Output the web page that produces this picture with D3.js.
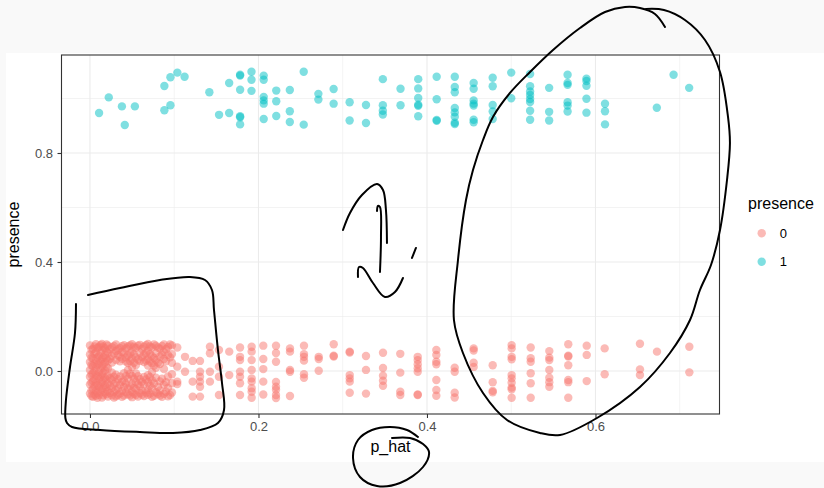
<!DOCTYPE html>
<html>
<head>
<meta charset="utf-8">
<script src="https://cdn.jsdelivr.net/npm/d3@7"></script>
<style>
  html, body { margin: 0; padding: 0; background: #f9f9f9; }
  svg { display: block; }
  text { font-family: "Liberation Sans", Arial, Helvetica, sans-serif; }
</style>
</head>
<body>
<svg id="chart" width="824" height="488"></svg>
<script>
// p_hat columns with the jittered presence values of their points (presence = 0)
const absentCols = [
  [0.0000, [0.094, 0.061, 0.033, 0.004, -0.021, -0.049, -0.083]],
  [0.0018, [0.078, 0.049, 0.021, -0.013, -0.042, -0.071, -0.092]],
  [0.0036, [0.081, 0.047, 0.018, -0.008, -0.037, -0.066, -0.095]],
  [0.0053, [0.090, 0.063, 0.027, -0.001, -0.030, -0.057, -0.086]],
  [0.0071, [0.098, 0.070, 0.041, 0.012, -0.016, -0.044, -0.072, -0.091]],
  [0.0089, [0.085, 0.050, 0.023, -0.019, -0.052, -0.080, -0.098]],
  [0.0107, [0.088, 0.055, 0.026, -0.003, -0.029, -0.058, -0.087]],
  [0.0125, [0.095, 0.066, 0.036, 0.006, -0.022, -0.049, -0.078]],
  [0.0142, [0.099, 0.075, 0.045, 0.019, -0.011, -0.040, -0.068, -0.097]],
  [0.0160, [0.089, 0.050, 0.025, -0.005, -0.033, -0.061, -0.089]],
  [0.0178, [0.083, 0.058, 0.032, 0.002, -0.024, -0.052, -0.079]],
  [0.0196, [0.097, 0.072, 0.046, 0.015, -0.031, -0.060, -0.085]],
  [0.0214, [0.093, 0.066, 0.038, 0.010, -0.017, -0.046, -0.074, -0.094]],
  [0.0237, [0.080, 0.045, -0.026, -0.054, -0.081]],
  [0.0261, [0.087, 0.056, 0.031, -0.006, -0.033, -0.062, -0.089]],
  [0.0285, [0.092, 0.064, -0.021, -0.048, -0.077, -0.097]],
  [0.0309, [0.097, 0.073, 0.040, -0.014, -0.042, -0.070, -0.093]],
  [0.0332, [0.079, 0.058, -0.030, -0.064, -0.088]],
  [0.0356, [0.084, 0.052, 0.036, -0.020, -0.051, -0.083]],
  [0.0380, [0.091, 0.070, 0.045, -0.040, -0.073, -0.095]],
  [0.0404, [0.095, 0.064, -0.008, -0.036, -0.059, -0.090]],
  [0.0427, [0.083, 0.050, 0.035, -0.018, -0.047, -0.078]],
  [0.0451, [0.090, 0.058, 0.029, 0.004, -0.027, -0.064, -0.085]],
  [0.0475, [0.094, 0.065, 0.037, -0.010, -0.055, -0.090]],
  [0.0499, [0.098, 0.071, 0.045, 0.015, -0.018, -0.047, -0.076, -0.096]],
  [0.0522, [0.089, 0.060, 0.030, -0.028, -0.062, -0.084]],
  [0.0546, [0.085, 0.050, 0.022, -0.009, -0.040, -0.068, -0.088]],
  [0.0570, [0.093, 0.042, -0.019, -0.049, -0.094]],
  [0.0593, [0.096, 0.067, 0.037, -0.030, -0.057, -0.081]],
  [0.0617, [0.081, 0.051, -0.040, -0.071, -0.087]],
  [0.0641, [0.089, 0.060, 0.033, -0.022, -0.049, -0.092]],
  [0.0665, [0.095, 0.065, 0.038, -0.031, -0.079]],
  [0.0688, [0.099, 0.074, 0.043, 0.020, -0.015, -0.041, -0.070, -0.087]],
  [0.0712, [0.090, 0.062, 0.035, -0.022, -0.054, -0.083]],
  [0.0736, [0.086, 0.055, 0.028, -0.004, -0.034, -0.063, -0.095]],
  [0.0760, [0.097, 0.048, 0.020, -0.046, -0.091]],
  [0.0783, [0.093, 0.066, 0.040, 0.012, -0.025, -0.078]],
  [0.0807, [0.086, 0.031, -0.058, -0.084]],
  [0.0831, [0.082, 0.053, 0.026, -0.038, -0.071, -0.090]],
  [0.0855, [0.092, 0.060, -0.028, -0.095]],
  [0.0878, [0.097, 0.070, 0.044, 0.007, -0.050, -0.084]],
  [0.0902, [0.080, 0.036, -0.041, -0.076]],
  [0.0926, [0.088, 0.059, -0.020, -0.062, -0.093]],
  [0.0950, [0.097, 0.050, -0.088]],
  [0.0973, [0.094, 0.062, 0.030, -0.012, -0.045, -0.079]],
  [0.1036, [0.086, 0.016, -0.039, -0.048]],
  [0.1128, [0.052, -0.003]],
  [0.1219, [0.037, -0.039, -0.094]],
  [0.1306, [0.037, -0.003, -0.021, -0.039, -0.058, -0.094]],
  [0.1424, [0.089, 0.065, -0.003, -0.039]],
  [0.1531, [0.077, 0.016, -0.021, -0.088]],
  [0.1653, [0.071, -0.015]],
  [0.1781, [0.086, 0.052, 0.040, -0.003, -0.021, -0.045, -0.088]],
  [0.1919, [0.089, 0.071, 0.040, 0.004, -0.027, -0.039, -0.063, -0.076, -0.098]],
  [0.2057, [0.093, 0.044, 0.007, -0.039, -0.086]],
  [0.2208, [0.093, 0.066, 0.034, -0.040, -0.058, -0.069, -0.088, -0.099]],
  [0.2374, [0.083, 0.071, 0.004, -0.003, -0.092]],
  [0.2540, [0.093, 0.062, 0.052, 0.038, -0.012, -0.025]],
  [0.2715, [0.052, 0.044, 0.001]],
  [0.2893, [0.098, 0.056, 0.053]],
  [0.3083, [0.071, 0.068, -0.015, -0.027, -0.039, -0.080]],
  [0.3276, [0.055, 0.004, -0.083]],
  [0.3478, [0.067, 0.011, -0.017, -0.036, -0.054]],
  [0.3683, [0.063, -0.006, -0.076, -0.088]],
  [0.3890, [0.052, 0.040, 0.025, 0.010, -0.003, -0.086, -0.088]],
  [0.4111, [0.077, 0.059, 0.034, 0.025, -0.033, -0.070, -0.091]],
  [0.4329, [0.012, -0.003, -0.080, -0.097]],
  [0.4554, [0.083, 0.075, 0.030, 0.015]],
  [0.4780, [0.021, -0.041, -0.073, -0.078]],
  [0.5005, [0.095, 0.083, 0.052, 0.043, -0.015, -0.027, -0.043, -0.061, -0.067, -0.098]],
  [0.5231, [0.086, 0.047, 0.034, -0.008, -0.045, -0.098]],
  [0.5452, [0.073, 0.049, 0.040, 0.004, -0.025, -0.041, -0.058]],
  [0.5677, [0.098, 0.056, 0.053, 0.021, -0.033, -0.041, -0.098]],
  [0.5896, [0.093, 0.059, -0.037]],
  [0.6109, [0.083, -0.012]],
  [0.6528, [0.100, 0.006, -0.015]],
  [0.6730, [0.071]],
  [0.7114, [0.089, -0.005]]
];

// p_hat columns with the jittered presence values of their points (presence = 1)
const presentCols = [
  [0.0108, [0.947]],
  [0.0223, [1.004]],
  [0.0379, [0.971]],
  [0.0413, [0.903]],
  [0.0533, [0.971]],
  [0.0883, [1.046, 0.957]],
  [0.0955, [1.078, 0.975]],
  [0.1037, [1.095]],
  [0.1123, [1.080]],
  [0.1417, [1.023]],
  [0.1532, [0.940]],
  [0.1652, [1.057, 0.947]],
  [0.1782, [1.087, 1.084, 1.032, 0.935, 0.931, 0.905]],
  [0.1917, [1.098, 1.069, 1.028]],
  [0.2062, [1.084, 1.069, 1.006, 0.993, 0.981, 0.925]],
  [0.2211, [1.029, 0.990, 0.936]],
  [0.2372, [1.031, 0.953, 0.914]],
  [0.2537, [1.098, 0.904]],
  [0.2711, [1.017, 0.996]],
  [0.2892, [1.035, 0.981]],
  [0.3082, [0.986, 0.919]],
  [0.3276, [0.976, 0.910]],
  [0.3476, [1.071, 0.975, 0.955, 0.941]],
  [0.3686, [1.036, 0.975]],
  [0.3896, [1.071, 1.037, 1.002, 0.977, 0.973, 0.935]],
  [0.4115, [1.080, 0.997, 0.921, 0.918]],
  [0.4330, [1.080, 1.042, 1.023, 0.965, 0.949, 0.933, 0.911, 0.906]],
  [0.4554, [1.057, 1.036, 0.993, 0.981, 0.974, 0.922, 0.913]],
  [0.4780, [1.076, 1.045, 0.976, 0.952, 0.925]],
  [0.5000, [1.095, 1.001]],
  [0.5224, [1.090, 1.045, 1.026, 1.013, 0.998, 0.987, 0.955, 0.922]],
  [0.5450, [1.039, 0.951, 0.919]],
  [0.5669, [1.087, 1.057, 1.050, 0.986, 0.974, 0.952]],
  [0.5893, [1.073, 1.064, 1.047, 0.999, 0.948]],
  [0.6113, [0.981, 0.953, 0.905]],
  [0.6728, [0.966]],
  [0.6927, [1.087]],
  [0.7112, [1.039]]
];

const xTicks = [0, 0.2, 0.4, 0.6];
const yTicks = [0, 0.4, 0.8];
const xMinor = [0.1, 0.3, 0.5, 0.7];
const yMinor = [0.2, 0.6, 1.0];
const legendLevels = ["0", "1"];
const legendColors = ["#F8766D", "#00BFC4"];

// Pen annotations, in (p_hat, presence) units
const inkEllipse = [
  [0.6825, 1.2624], [0.6706, 1.3101], [0.6528, 1.3321], [0.6350, 1.3358], [0.6113, 1.3174],
  [0.5816, 1.2587], [0.5496, 1.1780], [0.5223, 1.0972], [0.4985, 1.0202], [0.4783, 0.9321],
  [0.4665, 0.8477], [0.4546, 0.7376], [0.4463, 0.6275], [0.4368, 0.4073], [0.4320, 0.1872],
  [0.4427, 0.0661], [0.4665, -0.0807], [0.4950, -0.1798], [0.5341, -0.2275], [0.5579, -0.2349],
  [0.6018, -0.1725], [0.6528, -0.0587], [0.6884, 0.0661], [0.7122, 0.1872], [0.7240, 0.2972],
  [0.7371, 0.3890], [0.7478, 0.5174], [0.7561, 0.7009], [0.7596, 0.8367], [0.7573, 0.9321],
  [0.7478, 1.0972], [0.7300, 1.2147], [0.7062, 1.2881], [0.6813, 1.3248], [0.6599, 1.3284]
];
const inkBox = [
  [-0.0024, 0.2789], [0.0356, 0.3046], [0.0831, 0.3339], [0.1187, 0.3450], [0.1365, 0.3339],
  [0.1448, 0.2972], [0.1472, 0.2239], [0.1519, 0.0771], [0.1567, -0.0440], [0.1591, -0.1431],
  [0.1519, -0.1908], [0.1306, -0.2165], [0.0985, -0.2275], [0.0593, -0.2239], [0.0119, -0.2165],
  [-0.0213, -0.2055], [-0.0273, -0.1908], [-0.0292, -0.1725], [-0.0285, -0.1064],
  [-0.0237, 0.0147], [-0.0178, 0.1394], [-0.0166, 0.2459]
];
const inkUp = [
  [0.3003, 0.5174], [0.3086, 0.5798], [0.3228, 0.6459], [0.3407, 0.6862], [0.3478, 0.6642],
  [0.3513, 0.5908], [0.3525, 0.4697]
];
const inkStem = [
  [0.3407, 0.5872], [0.3418, 0.6055], [0.3442, 0.6018], [0.3454, 0.4917], [0.3442, 0.3633]
];
const inkDown = [
  [0.3181, 0.3450], [0.3193, 0.3817], [0.3240, 0.3780], [0.3359, 0.3229], [0.3501, 0.2716],
  [0.3620, 0.2899], [0.3715, 0.3413]
];
const inkTick = [[0.3822, 0.4147], [0.3869, 0.4514]];
const inkLabelRing = [
  [0.3893, -0.2422], [0.3763, -0.2165], [0.3561, -0.2055], [0.3347, -0.2165], [0.3181, -0.2532],
  [0.3122, -0.3193], [0.3205, -0.3890], [0.3407, -0.4220], [0.3680, -0.4110], [0.3953, -0.3523],
  [0.4024, -0.2972], [0.3953, -0.2679], [0.3798, -0.2459], [0.3585, -0.2459]
];

const svg = d3.select("#chart");
const W = 824, H = 488;
const panel = { left: 61.5, right: 719.5, top: 55, bottom: 414 };

const x = d3.scaleLinear().domain([-0.0338, 0.7472]).range([panel.left, panel.right]);
const y = d3.scaleLinear().domain([-0.1578, 1.1596]).range([panel.bottom, panel.top]);
const color = d3.scaleOrdinal().domain(legendLevels).range(legendColors);

// page and plot backgrounds
svg.append("rect").attr("width", W).attr("height", H).attr("fill", "#f9f9f9");
svg.append("rect").attr("x", 6).attr("y", 53).attr("width", W - 6).attr("height", 409).attr("fill", "#ffffff");

// grid
const grid = svg.append("g");
grid.selectAll(".vmin").data(xMinor).join("line")
  .attr("x1", d => x(d)).attr("x2", d => x(d))
  .attr("y1", panel.top).attr("y2", panel.bottom)
  .attr("stroke", "#ebebeb").attr("stroke-width", 0.6);
grid.selectAll(".hmin").data(yMinor).join("line")
  .attr("x1", panel.left).attr("x2", panel.right)
  .attr("y1", d => y(d)).attr("y2", d => y(d))
  .attr("stroke", "#ebebeb").attr("stroke-width", 0.6);
grid.selectAll(".vmaj").data(xTicks).join("line")
  .attr("x1", d => x(d)).attr("x2", d => x(d))
  .attr("y1", panel.top).attr("y2", panel.bottom)
  .attr("stroke", "#ebebeb").attr("stroke-width", 1.1);
grid.selectAll(".hmaj").data(yTicks).join("line")
  .attr("x1", panel.left).attr("x2", panel.right)
  .attr("y1", d => y(d)).attr("y2", d => y(d))
  .attr("stroke", "#ebebeb").attr("stroke-width", 1.1);

// points
const flatten = (cols, level) => cols.flatMap(([p, ys]) => ys.map(v => ({ p, v, level })));
const points = flatten(absentCols, "0").concat(flatten(presentCols, "1"));
svg.append("g").selectAll("circle").data(points).join("circle")
  .attr("cx", d => x(d.p)).attr("cy", d => y(d.v)).attr("r", 4.2)
  .attr("fill", d => color(d.level)).attr("fill-opacity", 0.5);

// panel border
svg.append("rect")
  .attr("x", panel.left).attr("y", panel.top)
  .attr("width", panel.right - panel.left).attr("height", panel.bottom - panel.top)
  .attr("fill", "none").attr("stroke", "#333333").attr("stroke-width", 1.1);

// axes
const xAxis = svg.append("g").attr("transform", `translate(0,${panel.bottom})`)
  .call(d3.axisBottom(x).tickValues(xTicks).tickFormat(d3.format(".1f")).tickSize(4).tickPadding(4));
const yAxis = svg.append("g").attr("transform", `translate(${panel.left},0)`)
  .call(d3.axisLeft(y).tickValues(yTicks).tickFormat(d3.format(".1f")).tickSize(4).tickPadding(4.5));
[xAxis, yAxis].forEach(g => {
  g.select(".domain").remove();
  g.selectAll(".tick line").attr("stroke", "#333333").attr("stroke-width", 1.1);
  g.selectAll(".tick text").attr("fill", "#4d4d4d").style("font-size", "13px")
    .style("font-family", "'Liberation Sans', Arial, sans-serif");
});

// axis titles
svg.append("text").attr("x", (panel.left + panel.right) / 2).attr("y", 452)
  .attr("text-anchor", "middle").style("font-size", "16px").attr("fill", "#000").text("p_hat");
svg.append("text")
  .attr("transform", `translate(19,${(panel.top + panel.bottom) / 2}) rotate(-90)`)
  .attr("text-anchor", "middle").style("font-size", "16px").attr("fill", "#000").text("presence");

// legend
const legend = svg.append("g");
legend.append("text").attr("x", 748).attr("y", 208.5).style("font-size", "16px").attr("fill", "#000").text("presence");
const keys = legend.selectAll(".key").data(legendLevels).join("g")
  .attr("transform", (d, i) => `translate(761.7,${233.3 + i * 28.4})`);
keys.append("circle").attr("r", 4.2).attr("fill", d => color(d)).attr("fill-opacity", 0.5);
keys.append("text").attr("x", 18).attr("dy", "0.36em").style("font-size", "13px").attr("fill", "#000").text(d => d);

// pen annotations
const pen = d3.line().x(d => x(d[0])).y(d => y(d[1])).curve(d3.curveCatmullRom.alpha(0.5));
const ink = svg.append("g").attr("fill", "none").attr("stroke", "#000")
  .attr("stroke-width", 2).attr("stroke-linecap", "round").attr("stroke-linejoin", "round");
[inkEllipse, inkBox, inkUp, inkStem, inkDown, inkTick, inkLabelRing].forEach(s => ink.append("path").attr("d", pen(s)));
</script>
</body>
</html>
